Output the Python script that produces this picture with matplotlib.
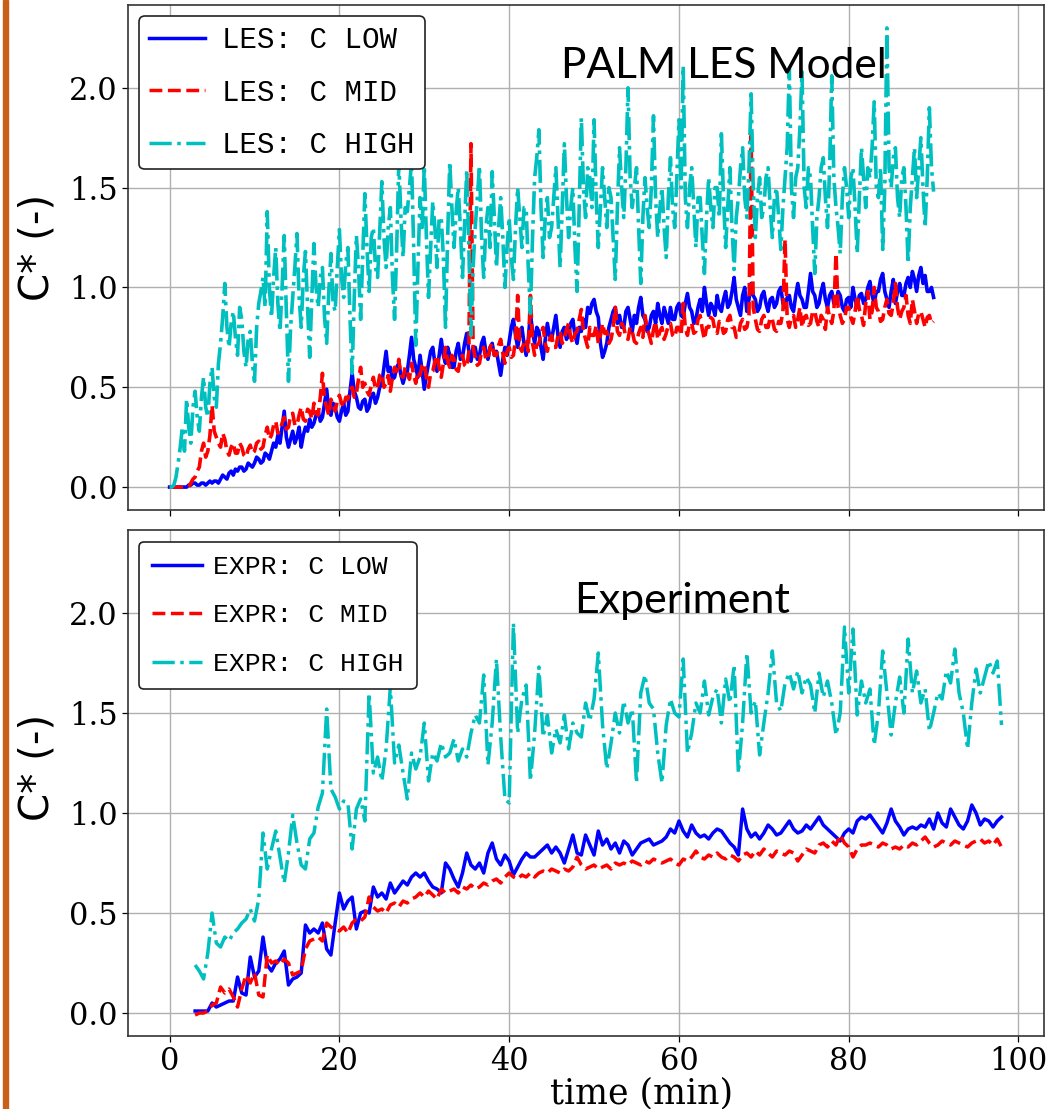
import numpy as np
import matplotlib
matplotlib.use("Agg")
import matplotlib.pyplot as plt
from matplotlib.patches import Rectangle

# ---------------- data ----------------
# LES model: sampled every 0.25 min from 0 to 90 min
les_t_start, les_dt = 0.0, 0.25
les_high = [
    0.00, 0.00, 0.01, 0.05, 0.12, 0.20, 0.30, 0.18, 0.44, 0.30, 0.22, 0.40, 0.48, 0.35, 0.28, 0.45, 0.55, 0.40, 0.35, 0.52,
    0.60, 0.45, 0.40, 0.62, 0.72, 0.85, 1.02, 0.80, 0.70, 0.82, 0.88, 0.75, 0.66, 0.90, 0.84, 0.68, 0.60, 0.74, 0.78, 0.62,
    0.53, 0.80, 0.92, 0.98, 1.05, 0.90, 1.38, 1.00, 0.85, 1.05, 1.20, 0.92, 0.78, 1.00, 1.26, 0.88, 0.53, 0.80, 0.95, 1.10,
    1.27, 0.95, 0.80, 1.05, 1.18, 0.90, 0.65, 0.95, 1.22, 1.00, 0.90, 1.05, 1.10, 0.85, 0.72, 0.98, 1.17, 0.92, 0.88, 1.10,
    1.29, 1.05, 0.95, 1.12, 1.20, 0.85, 0.57, 0.95, 1.26, 1.10, 0.84, 1.15, 1.47, 1.20, 0.98, 1.25, 1.30, 1.10, 1.05, 1.28,
    1.53, 1.25, 1.10, 1.30, 1.40, 1.05, 0.84, 1.20, 1.63, 1.35, 1.15, 1.40, 1.38, 1.50, 1.63, 1.20, 0.71, 1.10, 1.45, 1.30,
    1.61, 1.25, 0.95, 1.20, 1.43, 1.30, 1.10, 1.35, 1.35, 1.15, 0.80, 1.25, 1.63, 1.40, 1.20, 1.38, 1.50, 1.30, 1.05, 1.32,
    1.59, 1.20, 0.76, 1.10, 1.30, 1.45, 1.61, 1.25, 1.05, 1.30, 1.40, 1.20, 1.58, 1.35, 1.10, 1.30, 1.45, 1.25, 1.00, 1.20,
    1.35, 1.15, 1.04, 1.30, 1.50, 1.35, 1.20, 1.40, 1.40, 1.10, 0.87, 1.25, 1.55, 1.65, 1.79, 1.40, 1.15, 1.35, 1.45, 1.25,
    1.30, 1.45, 1.60, 1.35, 1.10, 1.40, 1.72, 1.45, 1.25, 1.40, 1.50, 1.20, 0.98, 1.40, 1.85, 1.50, 1.35, 1.60, 1.55, 1.40,
    1.84, 1.45, 1.20, 1.40, 1.60, 1.45, 1.30, 1.50, 1.45, 1.25, 1.04, 1.40, 1.70, 1.50, 1.35, 1.60, 2.00, 1.55, 1.40, 1.50,
    1.60, 1.30, 1.02, 1.35, 1.55, 1.40, 1.30, 1.50, 1.86, 1.45, 1.25, 1.40, 1.50, 1.30, 1.15, 1.45, 1.65, 1.40, 1.30, 1.55,
    1.84, 1.50, 2.11, 1.45, 1.30, 1.50, 1.60, 1.40, 1.20, 1.45, 1.45, 1.25, 1.07, 1.35, 1.55, 1.40, 1.30, 1.50, 1.50, 1.35,
    1.77, 1.45, 1.20, 1.40, 1.60, 1.30, 1.09, 1.35, 1.45, 1.60, 1.70, 1.45, 1.35, 1.60, 1.97, 1.50, 1.25, 1.45, 1.55, 1.35,
    1.40, 1.55, 1.60, 1.40, 1.25, 1.45, 1.50, 1.35, 1.19, 1.40, 1.55, 1.70, 2.10, 1.50, 1.35, 1.55, 1.60, 1.80, 2.08, 1.50,
    1.40, 1.60, 1.55, 1.30, 1.07, 1.35, 1.45, 1.60, 1.65, 1.45, 1.30, 1.60, 2.06, 1.55, 1.40, 1.30, 1.17, 1.45, 1.60, 1.50,
    1.35, 1.55, 1.60, 1.40, 1.17, 1.45, 1.70, 1.55, 1.40, 1.60, 1.55, 1.70, 1.93, 1.50, 1.45, 1.60, 1.19, 1.50, 2.30, 1.60,
    1.50, 1.65, 1.70, 1.45, 1.35, 1.55, 1.60, 1.40, 1.12, 1.40, 1.55, 1.70, 1.45, 1.60, 1.75, 1.50, 1.30, 1.55, 1.90, 1.60,
    1.48,
]
les_low = [
    0.00, 0.00, 0.00, 0.00, 0.00, 0.00, 0.00, 0.00, 0.00, 0.01, 0.01, 0.02, 0.02, 0.01, 0.01, 0.02, 0.02, 0.01, 0.02, 0.03,
    0.02, 0.03, 0.03, 0.02, 0.04, 0.06, 0.05, 0.04, 0.07, 0.08, 0.06, 0.09, 0.08, 0.10, 0.10, 0.08, 0.09, 0.12, 0.11, 0.10,
    0.12, 0.15, 0.14, 0.12, 0.13, 0.17, 0.16, 0.14, 0.18, 0.22, 0.20, 0.26, 0.22, 0.30, 0.38, 0.25, 0.20, 0.24, 0.28, 0.22,
    0.25, 0.30, 0.20, 0.26, 0.30, 0.28, 0.34, 0.30, 0.32, 0.36, 0.38, 0.33, 0.35, 0.42, 0.49, 0.38, 0.36, 0.42, 0.40, 0.35,
    0.33, 0.38, 0.42, 0.36, 0.38, 0.48, 0.57, 0.48, 0.45, 0.40, 0.39, 0.43, 0.44, 0.38, 0.40, 0.46, 0.47, 0.42, 0.45, 0.50,
    0.52, 0.60, 0.68, 0.58, 0.60, 0.54, 0.55, 0.60, 0.62, 0.56, 0.52, 0.56, 0.58, 0.66, 0.75, 0.64, 0.60, 0.55, 0.66, 0.58,
    0.49, 0.56, 0.62, 0.68, 0.70, 0.62, 0.58, 0.66, 0.74, 0.66, 0.62, 0.70, 0.66, 0.60, 0.60, 0.68, 0.72, 0.64, 0.65, 0.72,
    0.77, 0.68, 0.63, 0.70, 0.70, 0.64, 0.66, 0.72, 0.75, 0.68, 0.64, 0.70, 0.72, 0.66, 0.68, 0.62, 0.56, 0.64, 0.70, 0.66,
    0.73, 0.80, 0.84, 0.76, 0.70, 0.76, 0.80, 0.72, 0.66, 0.74, 0.87, 0.78, 0.72, 0.80, 0.78, 0.70, 0.64, 0.74, 0.82, 0.76,
    0.74, 0.80, 0.86, 0.76, 0.70, 0.78, 0.80, 0.74, 0.76, 0.82, 0.84, 0.76, 0.72, 0.80, 0.78, 0.84, 0.80, 0.90, 0.87, 0.92,
    0.94, 0.88, 0.85, 0.72, 0.65, 0.68, 0.72, 0.80, 0.84, 0.88, 0.90, 0.82, 0.86, 0.80, 0.80, 0.88, 0.90, 0.84, 0.78, 0.86,
    0.82, 0.90, 0.95, 0.86, 0.84, 0.78, 0.80, 0.86, 0.88, 0.82, 0.92, 0.86, 0.82, 0.90, 0.86, 0.82, 0.90, 0.84, 0.84, 0.90,
    0.92, 0.86, 0.85, 0.92, 0.97, 0.90, 0.88, 0.82, 0.84, 0.90, 0.94, 0.88, 1.00, 0.92, 0.86, 0.92, 0.90, 0.86, 0.96, 0.90,
    0.88, 0.94, 0.98, 0.90, 0.92, 0.98, 1.05, 0.94, 0.90, 0.86, 0.96, 1.00, 0.88, 0.94, 1.02, 0.96, 0.94, 0.88, 0.90, 0.96,
    0.98, 0.92, 0.88, 0.94, 0.95, 0.90, 0.92, 0.98, 1.00, 0.92, 0.90, 0.95, 0.96, 0.90, 0.88, 0.96, 1.02, 0.96, 0.94, 0.90,
    0.90, 0.98, 1.07, 0.98, 0.96, 0.90, 0.92, 0.98, 1.02, 0.94, 0.90, 0.96, 0.98, 0.92, 0.92, 0.98, 0.96, 0.90, 0.88, 0.94,
    0.95, 0.90, 1.00, 0.94, 0.90, 0.96, 0.97, 0.92, 0.94, 1.00, 1.03, 0.96, 0.92, 0.98, 0.98, 1.04, 1.07, 0.98, 0.94, 0.90,
    0.98, 1.04, 0.92, 0.98, 1.02, 0.96, 0.96, 1.02, 1.05, 1.00, 1.08, 1.04, 0.98, 1.06, 1.10, 1.02, 1.06, 0.98, 0.98, 1.00,
    0.95,
]
les_mid = [
    0.00, 0.00, 0.00, 0.00, 0.00, 0.00, 0.00, 0.00, 0.00, 0.00, 0.02, 0.04, 0.05, 0.08, 0.10, 0.18, 0.22, 0.15, 0.18, 0.26,
    0.41, 0.28, 0.25, 0.22, 0.20, 0.27, 0.24, 0.18, 0.16, 0.20, 0.22, 0.17, 0.17, 0.22, 0.20, 0.16, 0.15, 0.19, 0.21, 0.17,
    0.18, 0.22, 0.23, 0.19, 0.20, 0.26, 0.30, 0.24, 0.26, 0.31, 0.33, 0.27, 0.28, 0.32, 0.35, 0.29, 0.30, 0.36, 0.37, 0.31,
    0.31, 0.36, 0.40, 0.34, 0.33, 0.39, 0.38, 0.34, 0.42, 0.37, 0.36, 0.45, 0.57, 0.44, 0.40, 0.36, 0.44, 0.41, 0.38, 0.43,
    0.46, 0.42, 0.40, 0.45, 0.44, 0.49, 0.50, 0.45, 0.47, 0.54, 0.60, 0.50, 0.52, 0.48, 0.46, 0.51, 0.55, 0.49, 0.50, 0.56,
    0.57, 0.50, 0.52, 0.56, 0.48, 0.55, 0.60, 0.58, 0.64, 0.56, 0.55, 0.60, 0.58, 0.54, 0.62, 0.56, 0.52, 0.58, 0.56, 0.61,
    0.62, 0.55, 0.50, 0.57, 0.58, 0.63, 0.66, 0.60, 0.55, 0.62, 0.70, 0.63, 0.60, 0.66, 0.64, 0.59, 0.58, 0.64, 0.66, 0.61,
    0.60, 0.68, 1.72, 0.70, 0.65, 0.61, 0.62, 0.68, 0.70, 0.64, 0.64, 0.70, 0.72, 0.66, 0.66, 0.71, 0.74, 0.67, 0.62, 0.68,
    0.70, 0.65, 0.66, 0.74, 0.96, 0.70, 0.68, 0.73, 0.74, 0.68, 0.96, 0.72, 0.66, 0.71, 0.72, 0.77, 0.80, 0.72, 0.68, 0.74,
    0.76, 0.70, 0.70, 0.76, 0.78, 0.72, 0.74, 0.79, 0.82, 0.75, 0.72, 0.77, 0.78, 0.84, 0.89, 0.78, 0.74, 0.70, 0.80, 0.76,
    0.76, 0.81, 0.72, 0.76, 0.82, 0.77, 0.78, 0.72, 0.74, 0.80, 0.90, 0.78, 0.76, 0.82, 0.80, 0.75, 0.74, 0.80, 0.78, 0.73,
    0.72, 0.77, 0.80, 0.75, 0.86, 0.80, 0.76, 0.72, 0.79, 0.83, 0.74, 0.78, 0.80, 0.74, 0.77, 0.81, 0.82, 0.76, 0.75, 0.80,
    0.80, 0.76, 0.92, 0.80, 0.76, 0.82, 0.82, 0.77, 0.78, 0.84, 0.86, 0.79, 0.74, 0.80, 0.80, 0.85, 0.84, 0.78, 0.77, 0.83,
    0.82, 0.77, 0.78, 0.84, 0.86, 0.80, 0.80, 0.75, 0.76, 0.82, 0.84, 0.79, 0.80, 0.86, 1.76, 0.90, 0.84, 0.79, 0.78, 0.84,
    0.86, 0.80, 0.80, 0.85, 0.84, 0.79, 0.78, 0.83, 0.82, 0.88, 1.24, 0.84, 0.80, 0.85, 0.86, 0.80, 0.84, 0.90, 0.80, 0.85,
    0.86, 0.81, 0.82, 0.88, 0.88, 0.83, 0.80, 0.86, 0.84, 0.79, 0.90, 0.85, 0.82, 0.88, 1.17, 0.90, 0.86, 0.82, 0.84, 0.90,
    0.90, 0.85, 0.82, 0.88, 0.96, 0.89, 0.86, 0.81, 0.92, 0.98, 0.84, 0.88, 1.00, 0.90, 0.88, 0.83, 0.84, 0.90, 0.94, 0.87,
    0.86, 0.92, 1.02, 0.90, 0.84, 0.88, 0.90, 0.96, 0.86, 0.82, 0.94, 0.88, 0.82, 0.87, 0.88, 0.84, 0.80, 0.85, 0.86, 0.82,
    0.83,
]

# Experiment: sampled every 0.5 min from 3 to 98 min
exp_t_start, exp_dt = 3.0, 0.5
exp_high = [
    0.24, 0.21, 0.17, 0.30, 0.50, 0.35, 0.33, 0.38, 0.36, 0.40,
    0.42, 0.45, 0.47, 0.52, 0.46, 0.57, 0.90, 0.72, 0.82, 0.91,
    0.78, 0.65, 0.80, 0.99, 0.85, 0.74, 0.72, 0.87, 0.90, 1.03,
    1.10, 1.52, 1.12, 1.08, 1.02, 1.06, 1.05, 0.82, 1.02, 1.07,
    0.96, 1.60, 1.20, 1.28, 1.16, 1.32, 1.63, 1.25, 1.34, 1.20,
    1.07, 1.30, 1.22, 1.28, 1.45, 1.16, 1.30, 1.26, 1.35, 1.28,
    1.30, 1.37, 1.26, 1.32, 1.28, 1.40, 1.49, 1.45, 1.69, 1.24,
    1.45, 1.77, 1.38, 1.07, 1.05, 1.95, 1.40, 1.57, 1.64, 1.16,
    1.40, 1.73, 1.38, 1.49, 1.30, 1.42, 1.35, 1.49, 1.32, 1.45,
    1.40, 1.38, 1.55, 1.46, 1.57, 1.80, 1.44, 1.22, 1.35, 1.50,
    1.40, 1.56, 1.45, 1.52, 1.15, 1.60, 1.69, 1.55, 1.52, 1.30,
    1.15, 1.44, 1.57, 1.50, 1.48, 1.77, 1.30, 1.40, 1.55, 1.50,
    1.66, 1.49, 1.58, 1.62, 1.45, 1.67, 1.55, 1.74, 1.20, 1.45,
    1.80, 1.50, 1.56, 1.29, 1.45, 1.60, 1.81, 1.55, 1.51, 1.65,
    1.70, 1.62, 1.71, 1.60, 1.68, 1.64, 1.50, 1.70, 1.58, 1.66,
    1.55, 1.39, 1.50, 1.93, 1.60, 1.92, 1.49, 1.66, 1.55, 1.62,
    1.34, 1.50, 1.81, 1.60, 1.39, 1.55, 1.68, 1.50, 1.87, 1.60,
    1.71, 1.55, 1.62, 1.41, 1.50, 1.60, 1.57, 1.71, 1.65, 1.82,
    1.60, 1.50, 1.32, 1.55, 1.72, 1.60, 1.68, 1.76, 1.70, 1.76,
    1.44,
]
exp_low = [
    0.01, 0.01, 0.01, 0.01, 0.05, 0.03, 0.04, 0.05, 0.06, 0.06,
    0.18, 0.10, 0.09, 0.28, 0.18, 0.21, 0.38, 0.24, 0.21, 0.25,
    0.27, 0.31, 0.14, 0.17, 0.18, 0.20, 0.44, 0.40, 0.42, 0.40,
    0.45, 0.32, 0.29, 0.45, 0.60, 0.52, 0.56, 0.58, 0.42, 0.50,
    0.51, 0.50, 0.63, 0.58, 0.60, 0.57, 0.65, 0.60, 0.63, 0.66,
    0.64, 0.68, 0.70, 0.68, 0.70, 0.66, 0.63, 0.62, 0.60, 0.75,
    0.72, 0.67, 0.63, 0.70, 0.80, 0.74, 0.72, 0.75, 0.70, 0.80,
    0.85, 0.77, 0.74, 0.79, 0.76, 0.69, 0.73, 0.77, 0.80, 0.78,
    0.78, 0.80, 0.82, 0.84, 0.80, 0.83, 0.80, 0.75, 0.82, 0.89,
    0.80, 0.79, 0.89, 0.84, 0.79, 0.91, 0.84, 0.87, 0.82, 0.85,
    0.80, 0.86, 0.84, 0.79, 0.82, 0.85, 0.86, 0.87, 0.84, 0.85,
    0.86, 0.88, 0.92, 0.90, 0.96, 0.91, 0.88, 0.94, 0.90, 0.88,
    0.89, 0.87, 0.90, 0.92, 0.91, 0.88, 0.85, 0.83, 0.79, 1.02,
    0.92, 0.88, 0.90, 0.87, 0.90, 0.94, 0.92, 0.89, 0.90, 0.93,
    0.96, 0.92, 0.90, 0.91, 0.94, 0.92, 0.95, 0.98, 0.94, 0.92,
    0.90, 0.88, 0.86, 0.90, 0.92, 0.90, 0.96, 0.98, 0.97, 0.99,
    0.96, 0.93, 0.90, 0.95, 1.02, 0.96, 0.93, 0.89, 0.92, 0.93,
    0.92, 0.94, 0.93, 0.97, 0.92, 1.00, 0.95, 0.93, 1.02, 0.98,
    0.94, 0.92, 0.96, 1.04, 1.00, 0.94, 0.97, 0.96, 0.93, 0.96,
    0.98,
]
exp_mid = [
    -0.01, 0.00, 0.00, 0.01, 0.04, 0.05, 0.13, 0.10, 0.12, 0.08,
    0.03, 0.12, 0.19, 0.15, 0.20, 0.09, 0.08, 0.29, 0.25, 0.26,
    0.24, 0.27, 0.25, 0.19, 0.20, 0.21, 0.32, 0.36, 0.37, 0.38,
    0.36, 0.45, 0.43, 0.42, 0.41, 0.43, 0.40, 0.45, 0.47, 0.46,
    0.48, 0.58, 0.53, 0.51, 0.52, 0.50, 0.54, 0.55, 0.53, 0.56,
    0.55, 0.57, 0.58, 0.60, 0.58, 0.61, 0.59, 0.57, 0.62, 0.60,
    0.61, 0.62, 0.60, 0.63, 0.62, 0.64, 0.62, 0.63, 0.65, 0.64,
    0.66, 0.67, 0.65, 0.68, 0.70, 0.68, 0.67, 0.69, 0.68, 0.70,
    0.68, 0.70, 0.71, 0.70, 0.72, 0.71, 0.70, 0.72, 0.71, 0.73,
    0.78, 0.74, 0.72, 0.73, 0.74, 0.72, 0.73, 0.74, 0.72, 0.75,
    0.74, 0.75, 0.74, 0.76, 0.75, 0.74, 0.76, 0.75, 0.77, 0.76,
    0.75, 0.76, 0.77, 0.75, 0.74, 0.77, 0.76, 0.78, 0.81, 0.78,
    0.77, 0.79, 0.78, 0.80, 0.78, 0.77, 0.79, 0.78, 0.76, 0.79,
    0.80, 0.78, 0.81, 0.79, 0.82, 0.80, 0.78, 0.81, 0.80, 0.79,
    0.81, 0.80, 0.76, 0.79, 0.82, 0.81, 0.80, 0.84, 0.85, 0.83,
    0.86, 0.84, 0.89, 0.85, 0.83, 0.78, 0.82, 0.84, 0.84, 0.85,
    0.84, 0.83, 0.85, 0.84, 0.82, 0.83, 0.82, 0.84, 0.83, 0.85,
    0.84, 0.86, 0.88, 0.85, 0.83, 0.84, 0.86, 0.85, 0.84, 0.86,
    0.85, 0.84, 0.83, 0.85, 0.86, 0.87, 0.85, 0.86, 0.84, 0.87,
    0.83,
]

les_labels = ["LES: C LOW", "LES: C MID", "LES: C HIGH"]
exp_labels = ["EXPR: C LOW", "EXPR: C MID", "EXPR: C HIGH"]
titles = ["PALM LES Model", "Experiment"]
xlabel_text = "time (min)"
ylabel_text = "C* (-)"
x_ticks = [0, 20, 40, 60, 80, 100]
y_ticks = [0.0, 0.5, 1.0, 1.5, 2.0]

# ---------------- figure ----------------
les_t = np.arange(len(les_low)) * les_dt + les_t_start
exp_t = np.arange(len(exp_low)) * exp_dt + exp_t_start

fig = plt.figure(figsize=(10.59, 11.09), dpi=100)
ax1 = fig.add_axes([0.1209, 0.5401, 0.8649, 0.4554])
ax2 = fig.add_axes([0.1209, 0.0658, 0.8649, 0.4563], sharex=ax1, sharey=ax1)

# orange slide bar on the left
fig.patches.append(Rectangle((3 / 1059, 0), 5 / 1059, 1, transform=fig.transFigure,
                             color="#C8601A", zorder=0))

styles = [("b", "-"), ("r", "--"), ("c", "-.")]

for ax, t, series, labels, lfs, lsp, bpad, htp, lw, anchor, ylc in [
    (ax1, les_t, [les_low, les_mid, les_high], les_labels, 21, 0.84, 0.35, 0.6, 2.6,
     (11 / 916, 1 - 11 / 505), 0.52),
    (ax2, exp_t, [exp_low, exp_mid, exp_high], exp_labels, 19, 0.92, 0.5, 0.4, 2.5,
     (11 / 916, 1 - 12 / 506), 0.53),
]:
    for vals, lab, (c, ls) in zip(series, labels, styles):
        ax.plot(t, vals, color=c, linestyle=ls, linewidth=lw, label=lab)
    ax.grid(True, color="#b0b0b0", linewidth=1.0)
    ax.set_axisbelow(True)
    leg = ax.legend(loc="upper left", bbox_to_anchor=anchor, borderaxespad=0,
                    prop={"family": "Liberation Mono", "size": lfs},
                    labelspacing=lsp, handlelength=1.9, handletextpad=htp,
                    borderpad=bpad, framealpha=1.0, fancybox=True)
    for h in leg.get_lines():
        h.set_linewidth(2.5)
    leg.get_frame().set_edgecolor("#222222")
    leg.get_frame().set_linewidth(1.2)
    for sp in ax.spines.values():
        sp.set_color("#333333")
        sp.set_linewidth(1.2)
    ax.tick_params(labelsize=22, width=0.9, length=4)
    ax.set_ylabel(ylabel_text, fontsize=29, family="DejaVu Sans")
    ax.yaxis.set_label_coords(-0.077, ylc)

ax1.set_xlim(-4.9, 103.0)
ax1.set_ylim(-0.115, 2.415)
ax1.set_xticks(x_ticks)
ax1.set_yticks(y_ticks)
ax1.yaxis.set_major_formatter(matplotlib.ticker.FormatStrFormatter("%.1f"))
plt.setp(ax1.get_xticklabels(), visible=False)
for ax in (ax1, ax2):
    for lbl in ax.get_yticklabels() + ax.get_xticklabels():
        lbl.set_family("DejaVu Serif")
        lbl.set_fontsize(22)

ax2.set_xlabel(xlabel_text, fontsize=25, family="DejaVu Serif")
ax2.xaxis.set_label_coords(0.561, -0.079)

ax1.text(0.4727, 0.8554, titles[0], transform=ax1.transAxes, fontsize=30.5,
         family="Lato", va="baseline", ha="left")
ax2.text(0.487, 0.835, titles[1], transform=ax2.transAxes, fontsize=31,
         family="Lato", va="baseline", ha="left")

fig.savefig("out.png", dpi=100)
